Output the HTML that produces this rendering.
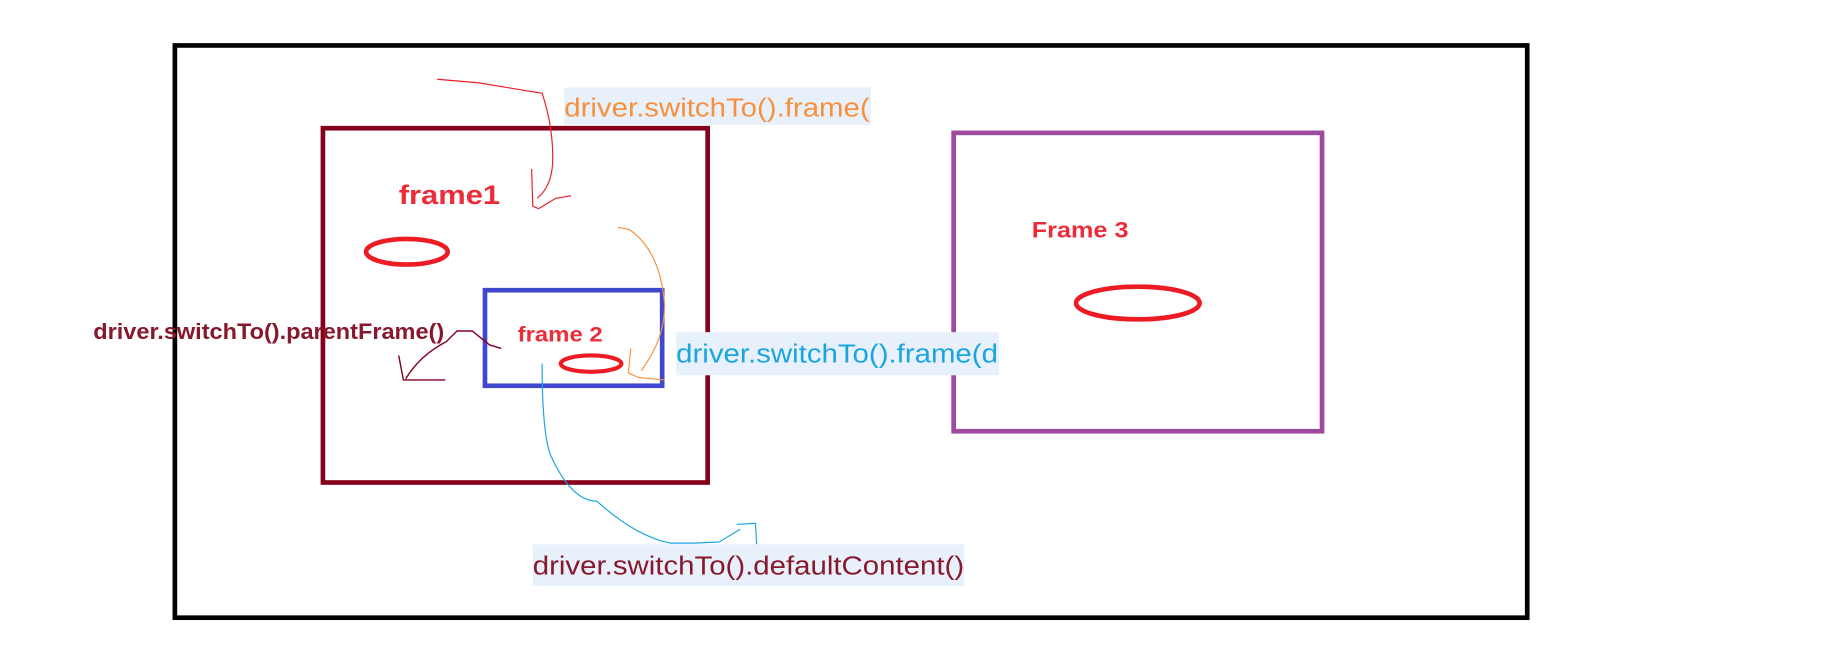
<!DOCTYPE html>
<html><head><meta charset="utf-8"><style>
html,body{margin:0;padding:0;background:#fff;width:1828px;height:648px;overflow:hidden}
svg{display:block}
text{font-family:"Liberation Sans",sans-serif}
</style></head><body>
<svg width="1828" height="648" viewBox="0 0 1568 556" preserveAspectRatio="none" xmlns="http://www.w3.org/2000/svg">
<rect x="0" y="0" width="1568" height="556" fill="#fff"/>
<rect x="150" y="39" width="1160" height="491" fill="none" stroke="#000" stroke-width="4"/>
<rect x="277" y="110" width="330" height="304" fill="none" stroke="#85001a" stroke-width="4"/>
<rect x="818" y="114" width="316" height="256" fill="none" stroke="#9e4aa0" stroke-width="4"/>
<rect x="416" y="249" width="152" height="82" fill="none" stroke="#3f48cc" stroke-width="4"/>
<ellipse cx="349" cy="216" rx="35" ry="11" fill="none" stroke="#ed1c24" stroke-width="4"/>
<ellipse cx="976" cy="260" rx="53" ry="14" fill="none" stroke="#ed1c24" stroke-width="4"/>
<ellipse cx="507" cy="312" rx="26" ry="7" fill="none" stroke="#ed1c24" stroke-width="3.5"/>
<text x="342" y="175" font-size="23" font-weight="bold" fill="#ed2c3a" textLength="87" lengthAdjust="spacingAndGlyphs">frame1</text>
<text x="885" y="204" font-size="19" font-weight="bold" fill="#ed2c3a" textLength="83" lengthAdjust="spacingAndGlyphs">Frame 3</text>
<text x="444" y="293" font-size="18" font-weight="bold" fill="#ed2c3a" textLength="73" lengthAdjust="spacingAndGlyphs">frame 2</text>
<text x="80" y="291" font-size="19" font-weight="bold" fill="#88192c" textLength="301" lengthAdjust="spacingAndGlyphs">driver.switchTo().parentFrame()</text>
<rect x="484" y="75" width="263" height="32" fill="#e8f1fb"/>
<text x="484" y="100" font-size="22" fill="#f7903c" textLength="262" lengthAdjust="spacingAndGlyphs">driver.switchTo().frame(</text>
<rect x="580" y="285" width="277" height="37" fill="#e8f1fb"/>
<text x="580" y="311" font-size="22" fill="#1aa5e0" textLength="276" lengthAdjust="spacingAndGlyphs">driver.switchTo().frame(d</text>
<rect x="457" y="467" width="370" height="36" fill="#e8f1fb"/>
<text x="457" y="493" font-size="22" fill="#88192c" textLength="370" lengthAdjust="spacingAndGlyphs">driver.switchTo().defaultContent()</text>
<path d="M375 68 L410 71 L465 80 Q475 110 474 140 Q473 160 461 170 M456 145 L457 177 L462 179 L477 170 L490 168" fill="none" stroke="#ed1c24" stroke-width="1"/>
<path d="M530 195 L540 197 Q566 215 570 260 Q571 290 550 318 M541 299 L539 320 L548 324 L570 326" fill="none" stroke="#f7903c" stroke-width="1"/>
<path d="M430 299 L420 296 L405 284 L392 284 L383 293 Q360 305 348 325 M342 305 L346 326 L382 326" fill="none" stroke="#800020" stroke-width="1.2"/>
<path d="M465 312 Q465 370 472 390 Q490 430 512 430 Q545 460 575 466 L596 466 L617 465 L635 454 M632 450 L648 449 L649 467" fill="none" stroke="#1aa5e0" stroke-width="1"/>
</svg>
</body></html>
